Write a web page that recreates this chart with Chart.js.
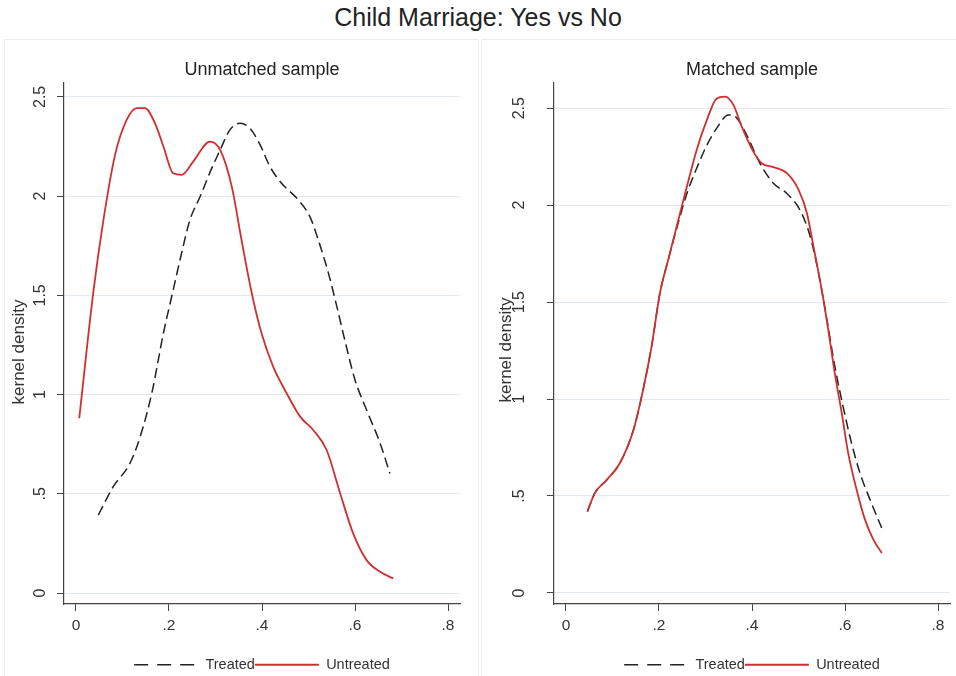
<!DOCTYPE html>
<html>
<head>
<meta charset="utf-8">
<script src="https://cdn.jsdelivr.net/npm/chart.js@4.4.1/dist/chart.umd.min.js"></script>
<style>
    html, body {
        margin: 0;
        padding: 0;
        width: 956px;
        height: 676px;
        overflow: hidden;
        background: #fff;
        font-family: "Liberation Sans", Arial, sans-serif;
    }
    #mainTitle {
        position: absolute;
        left: 0;
        top: 5px;
        width: 956px;
        text-align: center;
        font-size: 25px;
        line-height: 25px;
        color: #222;
    }
    .panel {
        position: absolute;
        top: 39px;
        height: 700px;
        box-sizing: border-box;
        border-top: 1px solid #e8edf2;
    }
    #leftPanel { left: 4px; width: 475px; border-left: 1px solid #eef2f5; border-right: 1px solid #e8edf2; }
    #rightPanel { left: 481px; width: 480px; border-left: 1px solid #e8edf2; }
    canvas { position: absolute; top: 40px; }
    #unmatchedChart { left: 0; }
    #matchedChart { left: 478px; }
    .yTitle {
        position: absolute;
        width: 200px;
        height: 20px;
        line-height: 20px;
        text-align: center;
        font-size: 17px;
        color: #333;
        transform: rotate(-90deg);
    }
</style>
</head>
<body>
<div id="mainTitle">Child Marriage: Yes vs No</div>
<div class="panel" id="leftPanel"></div>
<div class="panel" id="rightPanel"></div>
<canvas id="unmatchedChart" width="478" height="642"></canvas>
<canvas id="matchedChart" width="478" height="642"></canvas>
<div class="yTitle" style="left:-81px; top:342px;">kernel density</div>
<div class="yTitle" style="left:406px; top:340px;">kernel density</div>
<script>
// axis ticks
const xTicks = [0, 0.2, 0.4, 0.6, 0.8];
const xTickLabels = ['0', '.2', '.4', '.6', '.8'];
const yTicks = [0, 0.5, 1, 1.5, 2, 2.5];
const yTickLabels = ['0', '.5', '1', '1.5', '2', '2.5'];

// unmatched sample
const unmatchedTreatedX = [0.048, 0.080, 0.116, 0.138, 0.163, 0.188, 0.209, 0.227, 0.245, 0.267, 0.292, 0.310, 0.331, 0.353, 0.374, 0.396, 0.417, 0.442, 0.478, 0.503, 0.521, 0.543, 0.561, 0.578, 0.600, 0.625, 0.654, 0.675];
const unmatchedTreatedY = [0.393, 0.536, 0.654, 0.788, 1.007, 1.309, 1.527, 1.712, 1.880, 1.998, 2.141, 2.233, 2.334, 2.367, 2.342, 2.258, 2.149, 2.065, 1.981, 1.897, 1.779, 1.611, 1.443, 1.275, 1.074, 0.922, 0.755, 0.603];
const unmatchedUntreatedX = [0.007, 0.037, 0.059, 0.084, 0.109, 0.131, 0.148, 0.170, 0.188, 0.209, 0.227, 0.252, 0.288, 0.310, 0.335, 0.356, 0.378, 0.399, 0.424, 0.453, 0.482, 0.510, 0.539, 0.568, 0.596, 0.625, 0.654, 0.682];
const unmatchedUntreatedY = [0.881, 1.511, 1.880, 2.208, 2.384, 2.443, 2.443, 2.367, 2.250, 2.115, 2.107, 2.174, 2.275, 2.233, 2.048, 1.779, 1.511, 1.309, 1.141, 1.007, 0.889, 0.822, 0.721, 0.503, 0.301, 0.166, 0.107, 0.074];

// matched sample
const matchedTreatedX = [0.046, 0.062, 0.088, 0.116, 0.145, 0.166, 0.184, 0.202, 0.220, 0.238, 0.260, 0.281, 0.303, 0.325, 0.349, 0.367, 0.389, 0.417, 0.446, 0.475, 0.503, 0.525, 0.543, 0.561, 0.578, 0.596, 0.614, 0.632, 0.654, 0.679];
const matchedTreatedY = [0.42, 0.515, 0.584, 0.67, 0.84, 1.05, 1.27, 1.546, 1.72, 1.88, 2.06, 2.19, 2.31, 2.40, 2.465, 2.45, 2.36, 2.216, 2.113, 2.06, 1.976, 1.84, 1.65, 1.41, 1.17, 0.96, 0.773, 0.62, 0.48, 0.335];
const matchedUntreatedX = [0.046, 0.062, 0.088, 0.116, 0.145, 0.166, 0.184, 0.202, 0.220, 0.238, 0.260, 0.281, 0.303, 0.324, 0.342, 0.360, 0.378, 0.403, 0.421, 0.446, 0.475, 0.500, 0.518, 0.532, 0.550, 0.564, 0.578, 0.593, 0.607, 0.625, 0.643, 0.661, 0.679];
const matchedUntreatedY = [0.42, 0.515, 0.584, 0.67, 0.84, 1.05, 1.27, 1.546, 1.72, 1.89, 2.096, 2.285, 2.44, 2.55, 2.56, 2.517, 2.405, 2.276, 2.216, 2.196, 2.165, 2.08, 1.96, 1.79, 1.563, 1.357, 1.134, 0.928, 0.72, 0.532, 0.378, 0.275, 0.206];

Chart.defaults.font.family = '"Liberation Sans", Arial, sans-serif';
Chart.defaults.color = '#333';

function toPoints(xs, ys) {
    return xs.map((x, i) => ({ x: x, y: ys[i] }));
}

// legend samples take the dataset's line style, not the point style
function legendLabels(chart) {
    const items = Chart.defaults.plugins.legend.labels.generateLabels(chart);
    items.forEach(item => {
        const ds = chart.data.datasets[item.datasetIndex];
        item.lineDash = ds.borderDash ? [14, 9] : [];
        item.lineWidth = ds.borderWidth;
        item.strokeStyle = ds.borderColor;
    });
    return items;
}

function buildChart(canvasId, title, treated, untreated, opts) {
    const ctx = document.getElementById(canvasId).getContext('2d');
    return new Chart(ctx, {
        type: 'line',
        data: {
            datasets: [{
                label: 'Treated',
                data: treated,
                borderColor: '#222222',
                borderWidth: 1.5,
                borderDash: [10, 5],
                order: 1
            }, {
                label: 'Untreated',
                data: untreated,
                borderColor: '#d12f2f',
                borderWidth: 1.8,
                order: 0
            }]
        },
        options: {
            responsive: false,
            animation: false,
            devicePixelRatio: 1,
            layout: {
                padding: { left: 0, right: opts.padRight, top: 0, bottom: 0 }
            },
            elements: {
                point: { radius: 0 },
                line: { fill: false, cubicInterpolationMode: 'monotone', backgroundColor: 'transparent' }
            },
            scales: {
                x: {
                    type: 'linear',
                    min: opts.xMin,
                    max: opts.xMax,
                    afterBuildTicks: scale => { scale.ticks = xTicks.map(v => ({ value: v })); },
                    afterFit: scale => { scale.height = 53.5; },
                    ticks: {
                        padding: 5,
                        font: { size: 15.5 },
                        color: '#333',
                        maxRotation: 0,
                        callback: (value, index) => xTickLabels[index]
                    },
                    grid: {
                        drawOnChartArea: false,
                        color: '#444',
                        tickLength: 7
                    },
                    border: { display: true, color: '#444', width: 1.2 }
                },
                y: {
                    type: 'linear',
                    min: opts.yMin,
                    max: opts.yMax,
                    afterBuildTicks: scale => { scale.ticks = yTicks.map(v => ({ value: v })); },
                    afterFit: scale => { scale.width = opts.yAxisWidth; },
                    ticks: {
                        minRotation: 90,
                        maxRotation: 90,
                        crossAlign: 'center',
                        padding: opts.yTickPad,
                        font: { size: 16 },
                        color: '#333',
                        callback: (value, index) => yTickLabels[index]
                    },
                    grid: {
                        color: '#e3eaef',
                        tickColor: '#444',
                        tickLength: 7
                    },
                    border: { display: true, color: '#444', width: 1.2 }
                }
            },
            plugins: {
                title: {
                    display: true,
                    text: title,
                    fullSize: false,
                    color: '#222',
                    font: { size: 18, weight: 'normal' },
                    padding: { top: 19, bottom: 2.4 }
                },
                legend: {
                    position: 'bottom',
                    fullSize: false,
                    labels: {
                        usePointStyle: true,
                        pointStyle: 'line',
                        pointStyleWidth: 64,
                        padding: 0,
                        color: '#333',
                        font: { size: 14.5 },
                        generateLabels: legendLabels,
                        sort: (a, b) => a.datasetIndex - b.datasetIndex
                    }
                },
                tooltip: { enabled: false }
            }
        }
    });
}

buildChart('unmatchedChart', 'Unmatched sample',
    toPoints(unmatchedTreatedX, unmatchedTreatedY),
    toPoints(unmatchedUntreatedX, unmatchedUntreatedY),
    { xMin: -0.0258, xMax: 0.8258, yMin: -0.055, yMax: 2.57, yAxisWidth: 64, yTickPad: 5, padRight: 18 });

buildChart('matchedChart', 'Matched sample',
    toPoints(matchedTreatedX, matchedTreatedY),
    toPoints(matchedUntreatedX, matchedUntreatedY),
    { xMin: -0.0258, xMax: 0.8258, yMin: -0.057, yMax: 2.63, yAxisWidth: 76, yTickPad: 16, padRight: 6 });
</script>
</body>
</html>
